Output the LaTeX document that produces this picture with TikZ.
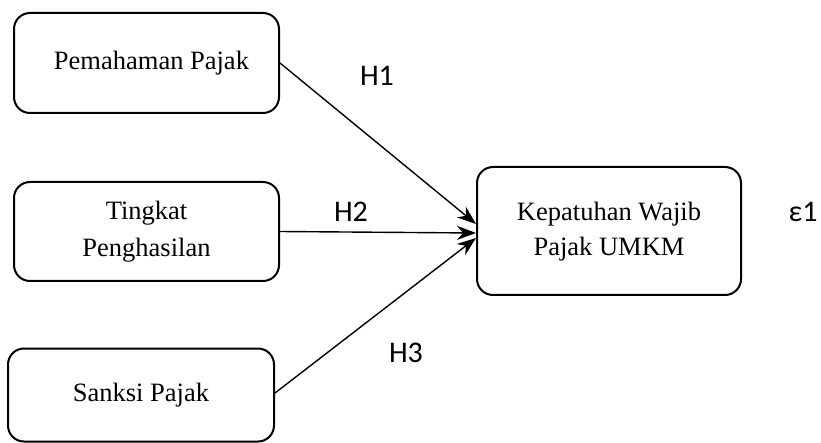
\documentclass[tikz,border=0pt]{standalone}
\usepackage{fontspec}
\setmainfont{Liberation Serif}
\newfontfamily\hfont{Carlito}
\usetikzlibrary{arrows.meta}
\begin{document}
\begin{tikzpicture}[x=1pt,y=-1pt,
  varbox/.style={draw,line width=2pt,rounded corners=16pt,inner sep=0pt,align=center,
    font=\fontsize{26.5}{37}\selectfont},
  conn/.style={line width=1.4pt,-{Stealth[length=19pt,width=14pt]}},
  hlab/.style={font=\hfont\fontsize{30}{36}\selectfont}]
\useasboundingbox (0,0) rectangle (821,443);
\node[varbox,minimum width=265pt,minimum height=100pt] (b1) at (146.5,63) {\raisebox{-5pt}{\hspace{10pt}Pemahaman Pajak}};
\node[varbox,minimum width=265pt,minimum height=99pt] (b2) at (146.5,231.5) {Tingkat\\Penghasilan};
\node[varbox,minimum width=266pt,minimum height=93pt] (b3) at (141,395) {\raisebox{-5pt}{Sanksi Pajak}};
\node[varbox,minimum width=264pt,minimum height=128pt] (y) at (609,231) {\raisebox{-6pt}{\fontsize{26.5}{35}\selectfont\begin{tabular}{@{}c@{}}Kepatuhan Wajib\\Pajak UMKM\end{tabular}}};
\coordinate (t1) at (476,224);
\coordinate (t2) at (476,233);
\coordinate (t3) at (476,238);
\draw[conn] (b1.east) -- (t1);
\draw[conn] (b2.east) -- (t2);
\draw[conn] (b3.east) ++(0,-2) -- (t3);
\node[hlab] (h1) at (377,76) {H1};
\node[hlab] (h2) at (351,212) {H2};
\node[hlab] (h3) at (406,353) {H3};
\node[hlab] (e1) at (803,212) {ε1};
\end{tikzpicture}
\end{document}
